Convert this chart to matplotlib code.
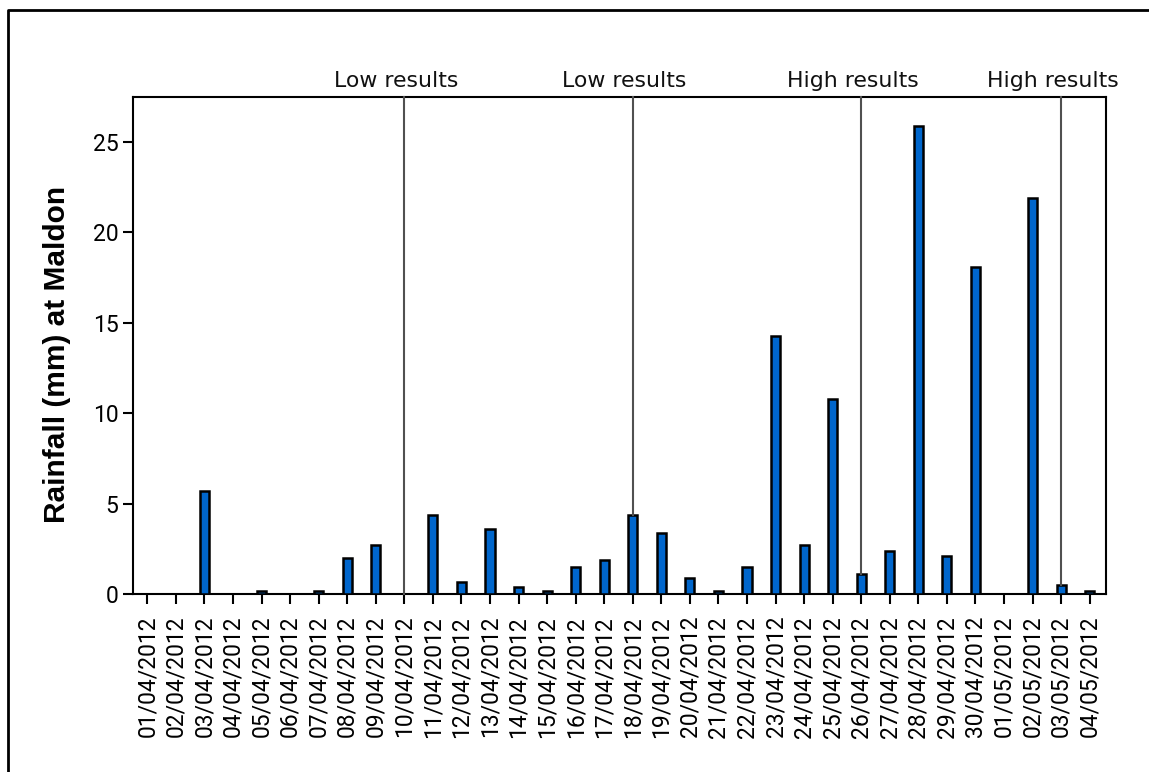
import matplotlib
matplotlib.use("Agg")
import matplotlib.pyplot as plt
from matplotlib.lines import Line2D

# Daily rainfall at Maldon, 1 April - 4 May 2012
dates = [
    "01/04/2012", "02/04/2012", "03/04/2012", "04/04/2012", "05/04/2012",
    "06/04/2012", "07/04/2012", "08/04/2012", "09/04/2012", "10/04/2012",
    "11/04/2012", "12/04/2012", "13/04/2012", "14/04/2012", "15/04/2012",
    "16/04/2012", "17/04/2012", "18/04/2012", "19/04/2012", "20/04/2012",
    "21/04/2012", "22/04/2012", "23/04/2012", "24/04/2012", "25/04/2012",
    "26/04/2012", "27/04/2012", "28/04/2012", "29/04/2012", "30/04/2012",
    "01/05/2012", "02/05/2012", "03/05/2012", "04/05/2012",
]
rainfall_mm = [
    0.0, 0.0, 5.7, 0.0, 0.2,
    0.0, 0.2, 2.0, 2.7, 0.0,
    4.4, 0.7, 3.6, 0.4, 0.2,
    1.5, 1.9, 4.4, 3.4, 0.9,
    0.2, 1.5, 14.3, 2.7, 10.8,
    1.1, 2.4, 25.9, 2.1, 18.1,
    0.0, 21.9, 0.5, 0.2,
]

# Sampling days flagged with a result label
marker_dates = ["10/04/2012", "18/04/2012", "26/04/2012", "03/05/2012"]
marker_labels = ["Low results", "Low results", "High results", "High results"]

W, H, DPI = 1149, 772, 100
fig = plt.figure(figsize=(W / DPI, H / DPI), dpi=DPI)
ax = fig.add_axes([133 / W, 1 - 594.3 / H, (1106 - 133) / W, (594.3 - 96.7) / H])

x = list(range(len(dates)))
ax.bar(x, rainfall_mm, width=0.32, color="#0066CC", edgecolor="black",
       linewidth=1.8, zorder=3)

ax.set_xlim(-0.5, len(dates) - 0.43)
ax.set_ylim(0, 27.5)
ax.set_yticks([0, 5, 10, 15, 20, 25])
ax.set_xticks(x)
ax.set_xticklabels(dates, rotation=90, fontfamily="Roboto", fontsize=16.5)
for lbl in ax.get_yticklabels():
    lbl.set_fontfamily("Roboto")
    lbl.set_fontsize(16.5)

ax.tick_params(axis="both", direction="out", length=7.5, width=1.5, color="black")
ax.tick_params(axis="x", pad=8)
ax.tick_params(axis="y", pad=3)
for s in ax.spines.values():
    s.set_linewidth(1.5)
    s.set_color("black")

ax.set_ylabel("Rainfall (mm) at Maldon", fontfamily="Liberation Sans",
              fontweight="bold", fontsize=21.5)
ax.yaxis.set_label_coords(-0.064, 0.483)

# Marker lines run from the bar top up to the top of the plot, labelled above
for d, lab in zip(marker_dates, marker_labels):
    i = dates.index(d)
    ax.plot([i, i], [rainfall_mm[i], 27.5], color="#505050", linewidth=1.5,
            zorder=4, clip_on=False)
    ax.annotate(lab, xy=(i, 1.0), xycoords=("data", "axes fraction"),
                xytext=(-6, 4), textcoords="offset points",
                ha="center", va="bottom", fontsize=15.8,
                fontfamily="DejaVu Sans", color="#111111")

# Outer frame along the left and top of the figure
fx = 7.5 / W
fy = 1 - 9.5 / H
fig.add_artist(Line2D([fx, fx, 1.0], [0.0, fy, fy], transform=fig.transFigure,
                      color="black", linewidth=2.0))

fig.savefig("out.png", dpi=DPI, facecolor="white")
